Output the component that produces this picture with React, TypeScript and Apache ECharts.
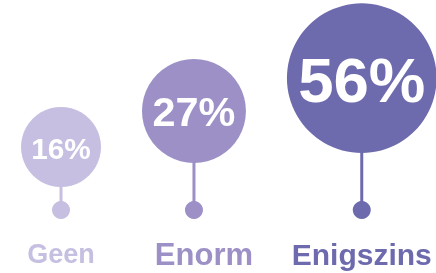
import { useEffect, useRef } from "react";
import * as echarts from "echarts";

const categories = ["Geen", "Enorm", "Enigszins"];
const values = [16, 27, 56];
const colors = ["#c6bfe1", "#9c90c6", "#6d6aad"];
// layout / style constants
const stemLengths = [14, 38, 48];
const labelFontSizes = [27, 31, 30];
const labelOffsets = [0, 10, 0];

export default function App() {
  const ref = useRef<HTMLDivElement>(null);
  useEffect(() => {
    const chart = echarts.init(ref.current!, null, { renderer: "svg" });
    const unit = 10;
    const gap = 41;
    const left = 21;
    const dotY = 210;
    const dotR = 9;
    const radii = values.map((v) => unit * Math.sqrt(v));
    const centers: number[] = [];
    let acc = left;
    radii.forEach((r) => {
      centers.push(acc + r);
      acc += 2 * r + gap;
    });
    const font = "'Liberation Sans', Arial, sans-serif";
    chart.setOption({
      animation: false,
      series: [
        {
          type: "custom",
          coordinateSystem: "none",
          data: values.map((v, i) => [v, i]),
          renderItem: (params: any, api: any) => {
            const i = params.dataIndex;
            const v = api.value(0);
            const r = unit * Math.sqrt(v);
            const cx = centers[i];
            const cy = dotY - dotR - stemLengths[i] - r;
            const color = colors[i];
            const fs = 0.97 * r - 9;
            return {
              type: "group",
              children: [
                {
                  type: "line",
                  shape: { x1: cx, y1: cy, x2: cx, y2: dotY },
                  style: { stroke: color, lineWidth: 3 },
                },
                {
                  type: "circle",
                  shape: { cx, cy: dotY, r: dotR },
                  style: { fill: color },
                },
                {
                  type: "circle",
                  shape: { cx, cy, r },
                  style: { fill: color },
                },
                {
                  type: "text",
                  style: {
                    text: v + "%",
                    x: cx,
                    y: cy + 1,
                    fill: "#ffffff",
                    fontSize: fs,
                    fontWeight: "bold",
                    fontFamily: font,
                    align: "center",
                    verticalAlign: "middle",
                  },
                },
                {
                  type: "text",
                  style: {
                    text: categories[i],
                    x: cx + labelOffsets[i],
                    y: 254,
                    fill: color,
                    fontSize: labelFontSizes[i],
                    fontWeight: "bold",
                    fontFamily: font,
                    align: "center",
                    verticalAlign: "middle",
                  },
                },
              ],
            };
          },
        },
      ],
    });
    return () => chart.dispose();
  }, []);
  return (
    <div
      ref={ref}
      style={{ position: "fixed", left: 0, top: 0, width: 436, height: 273 }}
    />
  );
}
